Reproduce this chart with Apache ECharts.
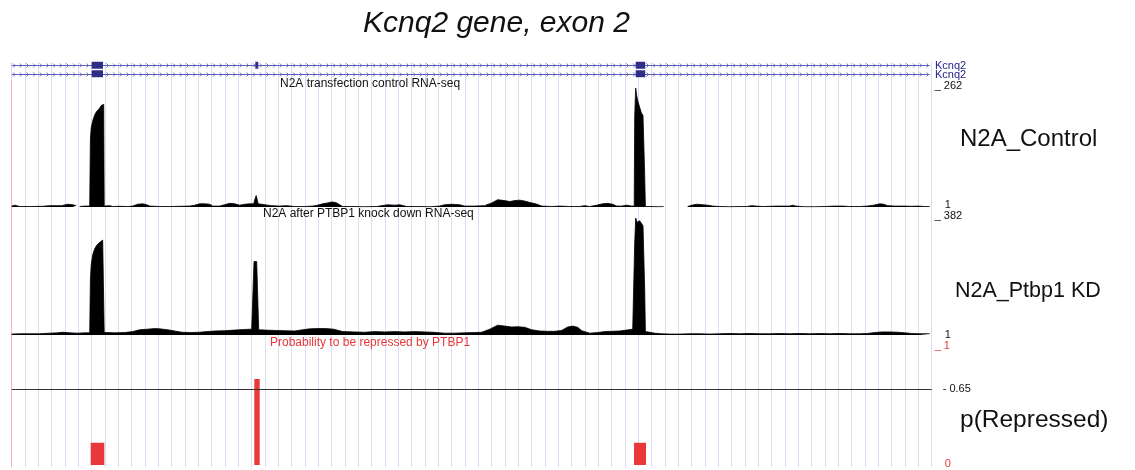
<!DOCTYPE html>
<html><head><meta charset="utf-8">
<script src="https://cdn.jsdelivr.net/npm/echarts@6/dist/echarts.min.js"></script>
<style>html,body{margin:0;padding:0;background:#fff}#c{width:1135px;height:470px}</style>
</head><body><div id="c"></div><script>
// ---- data (x positions in relative genomic units, 0..920) ----
const ctrlPos = [0,3,8,18,31,38,46,50,56,61,64.5,65.5,68,73,78,
 78.7,79.5,81.3,83,84.7,86.3,88,89.7,91.3,92,92.5,
 94,98,101,108,116,121,126,131,135,138,148,158,168,178,183,188,193,198,201,208,213,218,223,228,233,238,242,
 243.5,244.5,245.5,246.5,
 250,256,260,268,275,283,293,301,306,311,316,320,324,328,331,343,353,365,370,376,383,388,395,408,418,428,433,440,448,453,463,473,480,486,493,498,503,508,513,518,524,530,540,548,558,568,573,578,585,591,596,601,605,610,615,620,622.5,
 623,624,625,626.3,628,629.7,631.3,632.5,633,633.7,
 638,646,652,654,
 676,680,685,691,696,701,708,718,728,735,740,744,751,758,765,772,778,781,784,793,803,813,823,831,838,848,856,862,868,872,876,883,893,900,906,913,918];
const ctrlVal = [3,5,2,2,2.5,4,4,4,7,6,4,null,2,3,3,
 150,175,192,203,210,214,218,224,227,226,3,
 5,4,2,2.5,2,3,7,8,6,3,2,2,2.5,3,5,8,8,7,3,3,6,9,8,5,7,8,8,
 20,26,24,8,
 7,5,4,3,4,2,2,3,5,8,10,12,11,6,2,2,1.5,2,4,6,5,6,2,2,1.5,3,6,7,6,3,3,4,10,17,15,13,15,16,14,11,8,3,2,3,2,2,4,2,5,8,9,7,3,3,5,3,3,
 200,262,245,232,228,207,202,200,70,2,
 2,1.5,2,null,
 2,5,7,6,5,3,2,1.5,2,2,4,3,2,2.5,3,3,3,5,3,1.5,1.5,2,3,3,2,2,3,5,8,7,4,3,3,2.5,3,2,2];

const kdPos = [0,8,18,28,38,46,51,58,66,73,78,
 78.7,79.5,81,83,85,87,89,91,92,92.5,
 96,103,113,121,128,136,143,148,156,163,170,178,188,195,203,213,223,233,240,241.5,
 242.3,243.5,245,246.5,247,
 253,263,273,283,291,298,306,314,322,331,343,353,363,373,383,393,403,413,421,433,443,453,463,470,478,486,493,500,506,513,520,528,536,543,550,556,561,566,570,578,586,593,600,608,615,621,622.5,
 623,624,625.5,627,628,629.7,631.3,632.5,633,633.7,
 638,643,650,658,668,678,688,698,708,718,728,738,748,758,768,778,788,798,808,818,828,838,848,856,863,870,878,886,893,900,908,918];
const kdVal = [4,5,5,5,7,8,10,8,7,8,8,
 180,230,262,282,293,300,305,310,305,9,
 9,8,9,12,18,20,22,21,18,14,10,9,10,12,14,15,17,19,20,20,
 240,245,240,236,18,
 17,16,15,14,18,21,22,22,20,12,11,10,12,11,12,11,12,11,10,7,7,8,9,10,20,33,30,27,28,26,18,14,13,13,16,27,30,26,15,7,9,12,13,14,17,20,20,
 300,382,368,372,373,368,357,357,150,12,
 10,7,5,4,4,5,5,4,5,6,5,6,5,5,6,5,6,5,6,5,6,5,5,6,9,11,11,10,8,6,5,5];

const probStart = [79, 242.6, 622.3];
const probEnd   = [92.6, 248, 634.3];
const probVal   = [0.19, 0.735, 0.19];
const probThreshold = 0.65;

const txRowY   = [1.5, 0.5];
const txStart  = [0, 0];
const txEnd    = [918, 918];
const exonRow   = [0, 0, 0, 1, 1];
const exonStart = [80, 243.6, 624, 80, 624];
const exonEnd   = [91.3, 246.6, 633.5, 91.3, 633.5];

const ctrlMax = 262, kdMax = 382;
// ---------------------------------------------------------------

const FONT = 'Liberation Sans, Arial, Helvetica, sans-serif';
const RED = '#e8383a';
const GRIDX = {left: 11.7, width: 920};
const chart = echarts.init(document.getElementById('c'), null, {renderer: 'canvas'});

function hiddenX(gi) {
  return {gridIndex: gi, type: 'value', min: 0, max: 920, show: false};
}
function trackY(gi, max, color, padTop, padBot) {
  return {
    gridIndex: gi, type: 'value', min: gi === 4 ? 0 : 1, max: max, interval: gi === 4 ? 1 : max - 1,
    position: 'right', axisLine: {show: false}, axisTick: {show: false}, splitLine: {show: false},
    axisLabel: {
      margin: 3, fontFamily: FONT, fontSize: 11, color: color,
      formatter: function (v) { return v === max ? '{t|_ ' + v + '}' : '{b|' + v + '}'; },
      rich: {
        t: {fontFamily: FONT, fontSize: 11, color: color, padding: [0, 0, padTop, 0]},
        b: {fontFamily: FONT, fontSize: 11, color: color, padding: [0, 0, padBot, 10]}
      }
    }
  };
}

const geneData = txStart.map((s, i) => [s, txEnd[i], txRowY[i]]);
const exonData = exonStart.map((s, i) => [s, exonEnd[i], txRowY[exonRow[i]]]);
const ctrlData = ctrlPos.map((p, i) => [p, ctrlVal[i] === null ? '-' : ctrlVal[i]]);
const kdData = kdPos.map((p, i) => [p, kdVal[i]]);
const probData = probStart.map((s, i) => [s, probEnd[i], probVal[i]]);

function titleT(text, left, top, size, color, extra) {
  return Object.assign({text: text, left: left, top: top, padding: 0,
    textStyle: Object.assign({fontFamily: FONT, fontSize: size, fontWeight: 'normal', color: color}, extra || {})});
}

const option = {
  animation: false,
  backgroundColor: '#fff',
  title: [
    titleT('Kcnq2 gene, exon 2', 363, 9, 30, '#111', {fontStyle: 'italic'}),
    titleT('Kcnq2', 935, 60.5, 11, '#23238c'),
    titleT('Kcnq2', 935, 69.5, 11, '#23238c'),
    titleT('N2A transfection control RNA-seq', 280, 77.5, 12, '#111'),
    titleT('N2A after PTBP1 knock down RNA-seq', 263, 208, 12, '#111'),
    titleT('Probability to be repressed by PTBP1', 270, 336.5, 12, RED),
    titleT('N2A_Control', 960, 127, 24, '#111'),
    titleT('N2A_Ptbp1 KD', 955, 280, 21.5, '#111'),
    titleT('p(Repressed)', 960, 408, 24.5, '#111')
  ],
  grid: [
    Object.assign({top: 62, height: 405}, GRIDX),
    Object.assign({top: 61, height: 17}, GRIDX),
    Object.assign({top: 88, height: 119}, GRIDX),
    Object.assign({top: 218, height: 117}, GRIDX),
    Object.assign({top: 348, height: 117}, GRIDX),
    Object.assign({top: 80, height: 387}, GRIDX)
  ],
  xAxis: [
    {gridIndex: 0, type: 'value', min: 0, max: 920, interval: 40 / 3,
     axisLine: {show: false}, axisTick: {show: false}, axisLabel: {show: false},
     splitLine: {show: true, lineStyle: {color: '#dcdcf2', width: 1}}},
    hiddenX(1), hiddenX(2), hiddenX(3), hiddenX(4), hiddenX(5)
  ],
  yAxis: [
    {gridIndex: 0, type: 'value', show: false},
    {gridIndex: 1, type: 'value', min: 0, max: 2, show: false},
    trackY(2, ctrlMax, '#111', 4, 4),
    trackY(3, kdMax, '#111', 4, 1),
    trackY(4, 1, RED, 4, 2),
    {gridIndex: 5, type: 'value', position: 'right', axisLine: {show: true, lineStyle: {color: '#f3b4b4', width: 1}},
     axisTick: {show: false}, axisLabel: {show: false}, splitLine: {show: false}}
  ],
  series: [
    {type: 'custom', xAxisIndex: 1, yAxisIndex: 1, data: geneData, silent: true,
     renderItem: function (params, api) {
       const a = api.coord([api.value(0), api.value(2)]);
       const b = api.coord([api.value(1), api.value(2)]);
       const y = Math.round(a[1]) + 0.5;
       const col = '#5c5cb8';
       const ch = [{type: 'line', shape: {x1: a[0], y1: y, x2: b[0], y2: y}, style: {stroke: col, lineWidth: 1}}];
       for (let x = a[0] + 3; x < b[0] - 1; x += 20 / 3) {
         ch.push({type: 'polyline', shape: {points: [[x - 1.5, y - 2], [x + 0.5, y], [x - 1.5, y + 2]]},
                  style: {stroke: col, fill: null, lineWidth: 1, opacity: 0.85}});
       }
       return {type: 'group', children: ch};
     }},
    {type: 'custom', xAxisIndex: 1, yAxisIndex: 1, data: exonData, silent: true,
     renderItem: function (params, api) {
       const a = api.coord([api.value(0), api.value(2) + 0.41]);
       const b = api.coord([api.value(1), api.value(2) - 0.41]);
       return {type: 'rect', shape: {x: a[0], y: a[1], width: b[0] - a[0], height: b[1] - a[1]},
               style: {fill: '#2e2e86'}};
     }},
    {type: 'line', xAxisIndex: 2, yAxisIndex: 2, data: ctrlData, symbol: 'none', silent: true,
     connectNulls: false, lineStyle: {color: '#000', width: 0.8}, areaStyle: {color: '#000', opacity: 1}},
    {type: 'line', xAxisIndex: 3, yAxisIndex: 3, data: kdData, symbol: 'none', silent: true,
     lineStyle: {color: '#000', width: 0.8}, areaStyle: {color: '#000', opacity: 1}},
    {type: 'custom', xAxisIndex: 4, yAxisIndex: 4, data: probData, silent: true,
     renderItem: function (params, api) {
       const a = api.coord([api.value(0), api.value(2)]);
       const b = api.coord([api.value(1), 0]);
       return {type: 'rect', shape: {x: a[0], y: a[1], width: b[0] - a[0], height: b[1] - a[1]},
               style: {fill: RED}};
     },
     markLine: {silent: true, symbol: 'none', data: [{yAxis: probThreshold}],
       lineStyle: {color: '#333', width: 1, type: 'solid'},
       label: {show: true, position: 'end', distance: 11, formatter: '- 0.65', fontFamily: FONT, fontSize: 11, color: '#111'}}}
  ]
};
chart.setOption(option);
</script></body></html>
